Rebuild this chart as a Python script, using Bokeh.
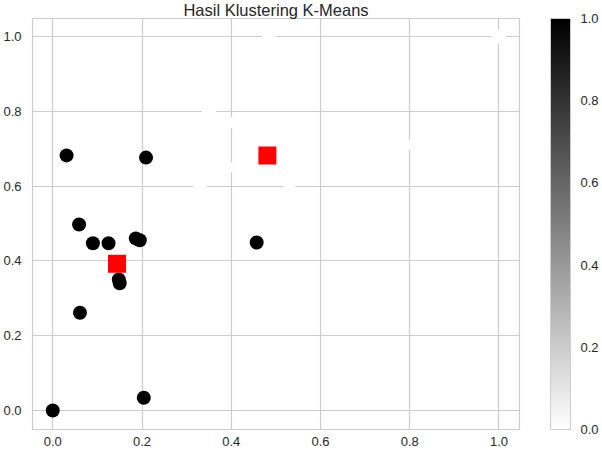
from bokeh.plotting import figure
from bokeh.models import ColumnDataSource, LinearColorMapper, ColorBar, PrintfTickFormatter, FixedTicker, Title
from bokeh.palettes import Greys256
from bokeh.embed import file_html
from bokeh.resources import INLINE

# Cluster 1 (black) points
x_c1 = [0.059, 0.090, 0.125, 0.186, 0.195, 0.457, 0.148, 0.150, 0.061, 0.204, 0.0, 0.031, 0.209]
y_c1 = [0.497, 0.447, 0.447, 0.460, 0.455, 0.449, 0.350, 0.340, 0.261, 0.034, 0.0, 0.682, 0.676]
# Cluster 0 (white) points – only visible as gaps in the grid
x_c0 = [0.485, 1.0, 0.35, 0.41, 0.39, 0.33, 0.53, 0.81]
y_c0 = [1.0, 1.0, 0.80, 0.77, 0.65, 0.60, 0.59, 0.71]
# Centroids
cx = [0.481, 0.144]
cy = [0.682, 0.392]
ticks = [0.0, 0.2, 0.4, 0.6, 0.8, 1.0]
title_text = "Hasil Klustering K-Means"

xs = x_c0 + x_c1
ys = y_c0 + y_c1
labels = [0] * len(x_c0) + [1] * len(x_c1)

src = ColumnDataSource(dict(x=xs, y=ys, label=labels))
mapper = LinearColorMapper(palette=list(reversed(Greys256)), low=0, high=1)

p = figure(width=602, height=466, output_backend="svg", toolbar_location=None,
           x_range=(-0.0454, 1.046), y_range=(-0.051, 1.048),
           min_border_left=31, min_border_bottom=37, min_border_top=18, min_border_right=83,
           title=Title(text=title_text, align="center", vertical_align="top",
                       text_font="Liberation Sans", text_font_size="16.5px",
                       text_font_style="normal", text_color="#262626", standoff=-4))

p.outline_line_color = "#cccccc"
p.outline_line_width = 1.2
for ax in (p.xaxis, p.yaxis):
    ax.ticker = FixedTicker(ticks=ticks)
    ax.formatter = PrintfTickFormatter(format="%.1f")
    ax.major_tick_line_color = None
    ax.minor_tick_line_color = None
    ax.major_tick_out = 0
    ax.axis_line_color = None
    ax.major_label_text_font = "Liberation Sans"
    ax.major_label_text_font_size = "13px"
    ax.major_label_text_color = "#262626"
p.xaxis.major_label_standoff = 7
p.yaxis.major_label_standoff = 11
p.grid.grid_line_color = "#cccccc"
p.grid.grid_line_width = 1.2

p.scatter("x", "y", source=src, size=14, marker="circle",
          fill_color={"field": "label", "transform": mapper}, line_color=None)
p.scatter(cx, cy, marker="square", size=18, fill_color="#ff0000", line_color=None)

cb = ColorBar(color_mapper=mapper, width=20, padding=0, margin=0, location=(31, 0),
              ticker=FixedTicker(ticks=ticks), formatter=PrintfTickFormatter(format="%.1f"),
              major_tick_line_color=None, minor_tick_line_color=None,
              bar_line_color="#cccccc", border_line_color=None,
              major_label_text_font="Liberation Sans", major_label_text_font_size="13px",
              major_label_text_color="#262626", label_standoff=10)
p.add_layout(cb, "right")

open("out.html", "w").write(file_html(p, INLINE))
